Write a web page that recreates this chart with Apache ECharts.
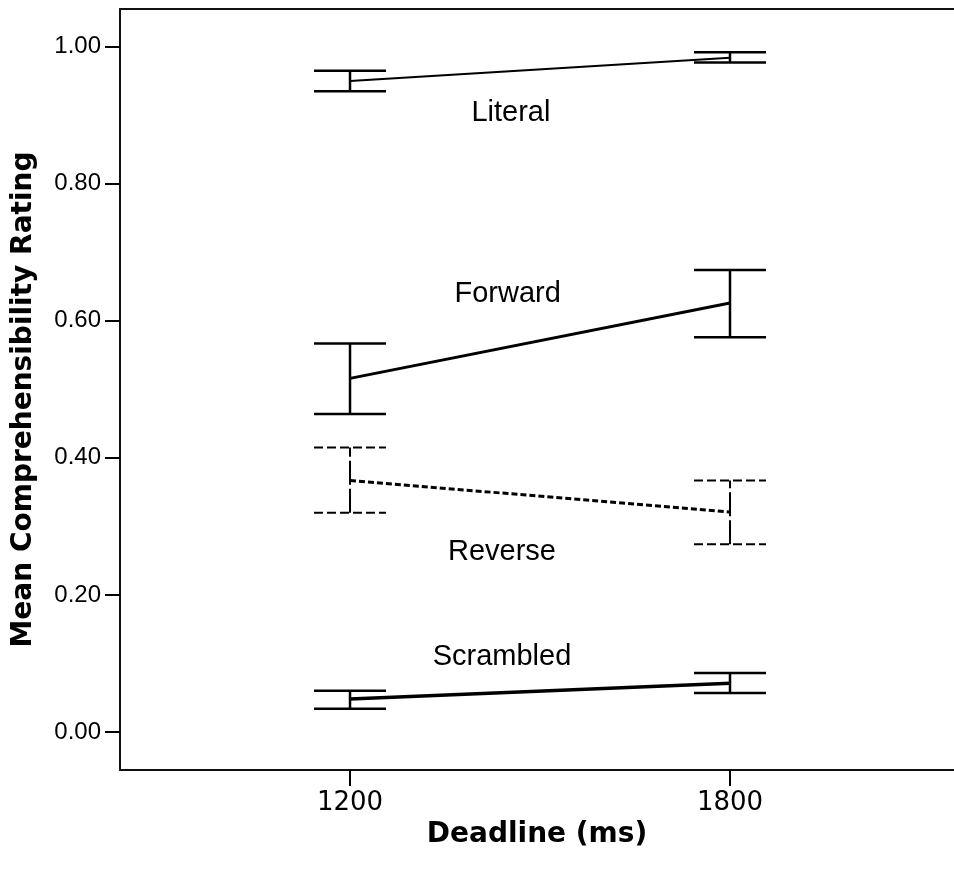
<!DOCTYPE html>
<html>
<head>
<meta charset="utf-8">
<script src="https://cdn.jsdelivr.net/npm/echarts@6/dist/echarts.min.js"></script>
<style>
html,body{margin:0;padding:0;background:#fff;}
#chart{width:954px;height:875px;}
</style>
</head>
<body>
<div id="chart"></div>
<script>
// ---- data ----
const deadlines = [1200, 1800];
const yTicks = [0, 0.2, 0.4, 0.6, 0.8, 1.0];

const literalMean = [0.950, 0.984];
const literalLow  = [0.935, 0.977];
const literalHigh = [0.965, 0.992];

const forwardMean = [0.516, 0.626];
const forwardLow  = [0.464, 0.576];
const forwardHigh = [0.567, 0.674];

const reverseMean = [0.367, 0.321];
const reverseLow  = [0.320, 0.274];
const reverseHigh = [0.415, 0.367];

const scrambledMean = [0.048, 0.071];
const scrambledLow  = [0.034, 0.057];
const scrambledHigh = [0.060, 0.086];

const groupNames = ['Literal', 'Forward', 'Reverse', 'Scrambled'];
// label anchors in data coordinates [deadline, rating]
const labelX = [1454, 1449, 1440, 1440];
const labelY = [0.903, 0.639, 0.263, 0.109];

// ---- helpers ----
function meanData(m) { return deadlines.map((d, i) => [d, m[i]]); }
function barData(lo, hi) { return deadlines.map((d, i) => [d, lo[i], hi[i]]); }

function errorBarSeries(name, lo, hi, capW, capDash, vW, vDash) {
  return {
    type: 'custom',
    name: name + ' CI',
    data: barData(lo, hi),
    encode: { x: 0, y: [1, 2] },
    silent: true,
    z: 3,
    renderItem: function (params, api) {
      const x = api.value(0);
      const pLo = api.coord([x, api.value(1)]);
      const pHi = api.coord([x, api.value(2)]);
      const hw = 36;
      return {
        type: 'group',
        children: [
          { type: 'line', shape: { x1: pLo[0], y1: pLo[1], x2: pHi[0], y2: pHi[1] },
            style: { stroke: '#000', lineWidth: vW, lineDash: vDash } },
          { type: 'line', shape: { x1: pLo[0] - hw, y1: pLo[1], x2: pLo[0] + hw, y2: pLo[1] },
            style: { stroke: '#000', lineWidth: capW, lineDash: capDash } },
          { type: 'line', shape: { x1: pHi[0] - hw, y1: pHi[1], x2: pHi[0] + hw, y2: pHi[1] },
            style: { stroke: '#000', lineWidth: capW, lineDash: capDash } }
        ]
      };
    }
  };
}

function meanLine(name, m, width, type) {
  return {
    type: 'line',
    name: name,
    data: meanData(m),
    symbol: 'none',
    silent: true,
    z: 4,
    lineStyle: { color: '#000', width: width, type: type }
  };
}

const chart = echarts.init(document.getElementById('chart'), null, { renderer: 'canvas' });

const option = {
  animation: false,
  backgroundColor: '#fff',
  grid: { left: 120, right: 0, top: 9, bottom: 105, containLabel: false },
  xAxis: [
    {
      type: 'value',
      min: 836.8,
      max: 2153.7,
      position: 'bottom',
      axisLine: { show: true, onZero: false, lineStyle: { color: '#111', width: 2 } },
      axisTick: { show: true, customValues: deadlines, length: 16,
                  lineStyle: { color: '#000', width: 2 } },
      axisLabel: { show: true, customValues: deadlines, margin: 20,
                   formatter: v => String(v),
                   fontSize: 26, fontFamily: 'DejaVu Sans', color: '#000' },
      splitLine: { show: false },
      name: 'Deadline (ms)',
      nameLocation: 'middle',
      nameGap: 37,
      nameTextStyle: { fontSize: 28, fontWeight: 'bold', fontFamily: 'DejaVu Sans', color: '#000' }
    },
    {
      type: 'value',
      min: 836.8,
      max: 2153.7,
      position: 'top',
      axisLine: { show: true, onZero: false, lineStyle: { color: '#111', width: 2 } },
      axisTick: { show: false },
      axisLabel: { show: false },
      splitLine: { show: false }
    }
  ],
  yAxis: {
    type: 'value',
    min: -0.0555,
    max: 1.055,
    axisLine: { show: true, onZero: false, lineStyle: { color: '#111', width: 2 } },
    axisTick: { show: true, customValues: yTicks, length: 15,
                lineStyle: { color: '#000', width: 2 } },
    axisLabel: { show: true, customValues: yTicks, margin: 19,
                 formatter: v => v.toFixed(2),
                 fontSize: 24, fontFamily: 'Liberation Sans', color: '#000' },
    splitLine: { show: false },
    name: 'Mean Comprehensibility Rating',
    nameLocation: 'middle',
    nameRotate: 90,
    nameGap: 82,
    nameTextStyle: { fontSize: 28, fontWeight: 'bold', fontFamily: 'DejaVu Sans', color: '#000',
                     padding: [0, 20, 0, 0] }
  },
  series: [
    meanLine('Literal', literalMean, 2, 'solid'),
    errorBarSeries('Literal', literalLow, literalHigh, 2.5, null, 2.5, null),
    meanLine('Forward', forwardMean, 3, 'solid'),
    errorBarSeries('Forward', forwardLow, forwardHigh, 2.5, null, 2.5, null),
    meanLine('Reverse', reverseMean, 3, [6, 3]),
    errorBarSeries('Reverse', reverseLow, reverseHigh, 2, [9, 4], 2, [24, 4]),
    meanLine('Scrambled', scrambledMean, 3.5, 'solid'),
    errorBarSeries('Scrambled', scrambledLow, scrambledHigh, 2.5, null, 2.5, null),
    {
      type: 'custom',
      name: 'labels',
      data: groupNames.map((n, i) => [labelX[i], labelY[i], n]),
      encode: { x: 0, y: 1 },
      silent: true,
      z: 5,
      renderItem: function (params, api) {
        const p = api.coord([api.value(0), api.value(1)]);
        return {
          type: 'text',
          x: p[0], y: p[1],
          style: {
            text: groupNames[params.dataIndex],
            fontSize: 29,
            fontFamily: 'Liberation Sans',
            fill: '#000',
            align: 'center',
            verticalAlign: 'middle'
          }
        };
      }
    }
  ]
};
chart.setOption(option);
</script>
</body>
</html>
